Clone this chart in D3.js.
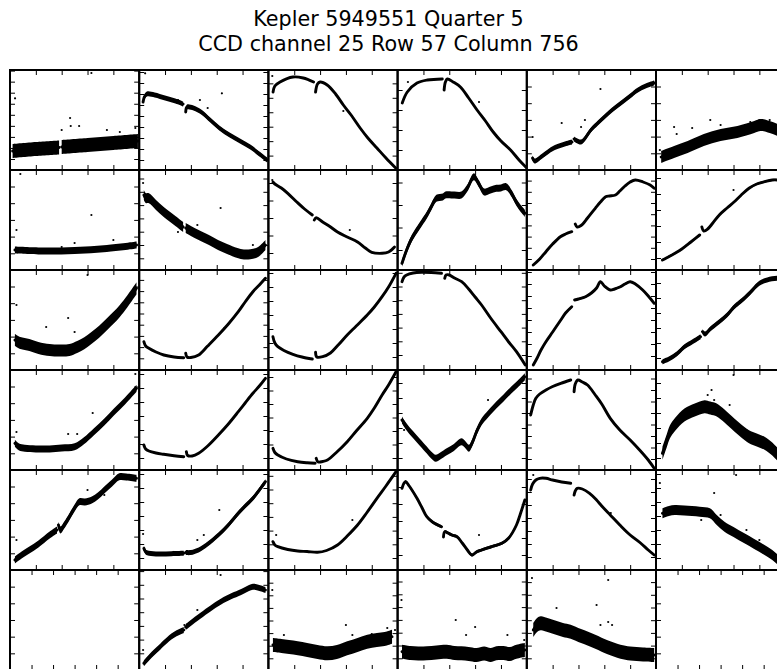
<!DOCTYPE html>
<html><head><meta charset="utf-8">
<script src="https://cdn.jsdelivr.net/npm/d3@7"></script>
<style>body{margin:0;background:#fff}svg{display:block}</style>
</head><body>
<svg id="chart" width="777" height="669"></svg>
<script>
// ---- text ----
const titleLines = ["Kepler 5949551 Quarter 5", "CCD channel 25 Row 57 Column 756"];

// ---- pixel light curves: each panel = list of segments of [time %, flux % of axis range] ----
const row1 = [
  [[[2,19],[20,21],[38,22.5]], [[40,23],[60,25],[80,27],[99,29]]],
  [[[3,68],[4,73],[6,76],[12,75],[20,72],[28,69],[34,66]], [[36,58],[37,63],[42,62],[48,58],[55,50],[62,42],[70,35],[78,29],[86,23],[93,16],[99,10]]],
  [[[3.6,78],[5,84],[9,88],[19,93],[27,92],[35,88]], [[36.5,78],[38,86],[40,88],[45.5,85],[52,76],[58,65],[64,55],[71,42],[77,32],[84,22],[91,12],[98.5,2]]],
  [[[3.6,67],[7.5,78],[15,87],[23,90],[34.6,91]], [[36,80],[37,88],[38.5,91],[43,88],[48.6,83],[55,72],[61.5,60],[68,49],[74,38],[80,29],[87.4,20],[94,10],[100,2]]],
  [[[4.4,12],[6,9],[12,14],[21,22],[35,28]], [[36.6,31],[42,28],[49.6,40],[55,47],[60,53],[66,60],[73,67],[80,74],[86,80],[92,84],[98.6,87]]],
  [[[4,13],[14,18],[24.5,23],[37,30],[50,35],[63,38],[76,43],[81,45],[88,43],[94,40],[100,36]]]
];
const row2 = [
  [[[3.8,20],[25,19],[50,19.5],[75,21.5],[98,25]]],
  [[[3.6,75],[5,72],[7.5,71.7],[13,65],[19,58],[27,50],[34,43]], [[36,42],[40,39],[46,35],[54,30],[61,25],[68,21],[76,17],[81,15.5],[86,15.7],[92,18],[97.7,25]]],
  [[[3.5,88],[5,86],[10,82],[15,76.7],[22,68],[28,61],[34,55]], [[35.5,50],[37,52.3],[42,48],[47,44],[53.5,38],[61,33],[69,28],[75,22],[80,17.7],[88,16.7],[93,18],[97.6,23]]],
  [[[3.4,6.7],[7,20],[11,31.7],[17,44],[22.6,55],[26,63],[30,71.7],[35,73],[37,75],[44,75],[49.4,75],[54,82],[59,93.3],[63,86],[67,78],[72,80],[76.4,81.7],[80,82],[84,83.3],[88,77],[91.7,68.3],[95,62],[98.5,56.7]]],
  [[[5,5],[10,11],[14.8,18.3],[20,26],[26,33.3],[30,36],[34.8,38.3]], [[37.5,46],[39,43],[42,44.5],[47,52],[53,61.7],[57,68],[61,73.3],[64,74],[68.6,75],[72,79],[76,84],[80,88],[84,90],[90,88],[95.5,85],[98.6,81.7]]],
  [[[5,10],[8,12],[14.7,16.7],[20,21],[27,28],[33.8,35]], [[35.5,43],[37,39],[40,41],[44,47],[49,55],[55,62],[60.6,68.3],[66,75],[72,81.7],[78,86],[84,88.3],[90,90],[94.6,90],[100,89]]]
];
const row3 = [
  [[[3.8,30],[8,27],[15,25],[22,22],[30.7,20],[38,19.5],[46,20],[52,23],[57.5,26.7],[63,32],[69,38.3],[76,47],[84.5,58.3],[91,69],[97.9,81.7]]],
  [[[3.6,28.3],[5,24],[7.5,21.7],[13,18],[19,15],[27,13],[34.5,12.3]], [[36,16.7],[37,13],[40,12.5],[46,15],[53,24],[61.3,35],[69,46],[76.7,58.3],[82,68],[88,78.3],[93,85],[97.7,91.7]]],
  [[[3.5,33.3],[5,27],[7.3,23.3],[12,19.5],[19,15.7],[26,13],[34,11]], [[36.5,17.7],[37.5,13],[42,13.3],[48,17],[54,25],[61,35],[68,44],[76.5,55],[82,63],[88,73.3],[93,83],[98.8,96.7]]],
  [[[3.4,88.3],[5,93],[7,95],[12,97],[18.6,97.7],[26,97.5],[34,96.7]], [[36.5,91.7],[37.5,95],[40,95],[44,92],[49.6,88.3],[55,81],[60,73],[65,65],[72,52],[80,38.3],[86,28],[92,18.3],[98.8,5]]],
  [[[5,5],[8,12],[11,20],[14.8,28.3],[20,38],[26.3,50],[30,57],[34.8,63.3]], [[37,70],[40,71],[45.5,73.3],[50,77],[54,82],[57,88.3],[60,84],[64.6,80],[68,81],[72,83],[76,86],[80,88.3],[84,86],[89.7,80],[94,74],[98.6,66.7]]],
  [[[5,8.3],[10,11],[16,16],[22,23.3],[28,28],[34.5,33.3]], [[36,38.3],[38,36],[42,41],[49,48.3],[55,55],[60.6,63.3],[64,67],[68.4,71.7],[74,79],[80,86.7],[86,90],[94.6,91.7],[100,91]]]
];
const row4 = [
  [[[3.8,26.7],[7,23],[11.5,21.7],[20,21],[30.7,21],[40,22],[50,23.3],[57,29],[65,38.3],[73,48],[80.6,58.3],[89,69],[97.9,81.7]]],
  [[[3.6,25],[5,21],[7.5,19],[13,17],[19,15.7],[27,14.3],[34.5,13.3]], [[36.5,18.3],[37.5,14.5],[41,14],[46,16.7],[53,24],[61.3,35],[69,46],[76.7,58.3],[82,67],[88,76.7],[93,84],[97.7,91.7]]],
  [[[3.5,21.7],[5,17.5],[7.3,15],[14,11],[22.7,8.3],[30,7.2],[36.2,6.7]], [[37,11.7],[38.5,8],[42,8.5],[45.7,10],[53,18],[61,28.3],[68,39],[76.5,51.7],[82,62],[88,75],[93,85],[98.8,98.3]]],
  [[[3.4,50],[7,43],[11,36.7],[17,28],[22.6,20],[26,15],[29.5,11.7],[33,14],[38,18.3],[43,22],[49.4,28.3],[52,26],[55.2,21.7],[58,28],[61,38],[65,48.3],[70,56],[76.4,65],[82,72],[88,80],[93,86],[98.5,93.3]]],
  [[[3,55],[5,65],[7,71.7],[10,76],[14.8,80],[20,83.5],[26.3,86.7],[34,90]], [[36.6,78.3],[37.5,86],[39.6,90],[43,88],[47,85],[53,75],[58,66],[64.6,51.7],[72,40],[80,30],[88,19],[94,10],[98.6,1.7]]],
  [[[5,16.7],[8,28],[10.8,38.3],[15,46],[22,55],[30,60],[37.6,63.3],[42,62],[47,60],[53,54],[60.6,45],[66,39],[72,33.3],[78,30],[84,26.7],[90,21],[94.6,15],[100,10]]]
];
const row5 = [
  [[[3.8,10],[9,15],[15,20],[22,26],[30.7,35],[36.4,40]], [[37.5,45],[39,40],[42,45],[46,53.3],[50,62],[53.7,68.3],[58,68],[63.3,70],[68,74],[73,80],[79,87],[84.5,93.3],[90,93],[97.9,91.7]]],
  [[[3.6,21.7],[5,18],[7.5,16.7],[15,16],[25,16.3],[34.5,16.7]], [[36,17.5],[40,17.5],[46,20],[53,26],[61.3,35],[69,45],[76.7,56.7],[82,64],[88,71.7],[93,80],[97.7,88.3]]],
  [[[3.5,28.3],[5,25],[7.3,23.3],[15,20.5],[22.7,19],[30,18.5],[38,17.7],[45,19.5],[53.5,25],[61,34],[69,45],[76,57],[84,71.7],[91,84],[98.8,98.3]]],
  [[[3.4,81.7],[5,87],[6.3,88.3],[9,84],[15,71.7],[19,62],[22.6,53.3],[27,48],[34,43.3]], [[35.5,33],[36.5,38.3],[39,37],[42,35],[46,33.3],[50,27],[54,20],[57.5,15],[61,18],[65,20],[72,23],[80.7,26.7],[86,32],[92,45],[95,56],[98.5,70]]],
  [[[3,80],[4.5,86],[7,90],[10,91.7],[14.8,91.7],[20,90],[27,88],[34,86.7]], [[36.6,75],[37.5,79],[39,81.7],[43,81],[48.6,76.7],[54,70],[58,64],[64.6,55],[72,45],[80,35],[88,27],[94,20],[98.6,15]]],
  [[[5,56.7],[10,59],[14.7,60],[22,59.5],[33.8,58.3],[41.7,56.7],[47,50],[53,43.3],[60,38],[68.4,31.7],[76,26],[84,20],[90,15],[94.6,10],[100,6]]]
];
const row6 = [
  null,
  [[[3.6,6.7],[8,13],[15,21.7],[20,28],[26.7,35],[34.5,40]], [[36,43],[38,45],[45,52],[53.5,60],[59,65],[65.3,70],[70,73],[76.7,76.7],[82,80],[88,83.3],[93,82],[97.7,80]]],
  [[[3.5,25],[10,24],[16,23],[22.7,21.7],[30,20],[38,18],[45.7,16.7],[53,18],[61,21.7],[69,25],[76.5,28.3],[84,30],[90,31],[95.7,33.3]]],
  [[[3.4,18.3],[10,17],[16,16.5],[22.6,16.7],[30,17.5],[38,18.3],[44,17],[49.4,16.7],[55,16],[61,15],[67,16.5],[72,15],[76.4,16.7],[82,17],[87,16],[92,18.3],[98.5,20]]],
  [[[5,40],[8,45],[10.8,46.7],[16,45],[22,42.5],[28,40],[34,38.3],[42,34],[53,28.3],[62,23],[72.5,18.3],[80,16.5],[90,15.5],[98.6,15]]],
  null
];
const rows = [row1, row2, row3, row4, row5, row6];

// scatter half-width of each panel (flux %)
const scatter = [
  [7, 2.5, 0, 0, 2.5, 6],
  [3.5, 5, 0, 3.5, 0, 1],
  [6, 0, 0, 0, 1, 2.5],
  [3.5, 0, 0, 3.5, 0, 6.5],
  [3.5, 2.5, 0.5, 1.5, 0, 5],
  [0, 3, 7, 7, 7, 0]
];

// isolated outlier cadences [time %, flux %]
const outliers = [
  [[[3.9,71.7],[63,97],[46.5,52],[47,44],[53.5,44],[40,40],[75,40],[85,38],[97,42]], [[4.6,96.7],[64,76.7],[47,70],[53,62],[30,70]], [[3,94],[58,59]], [[8,88],[63,68]], [[4.5,33],[27,47],[57,81],[45,50],[42,43]], [[3,20],[14,43],[16,36],[28,42],[42,50],[50,45],[80,50],[88,50],[73,48]]],
  [[[8,96],[63,55],[40,23],[50,27],[80,30],[5,40]], [[3,87],[63,62],[30,38],[45,45],[88,25]], [[3,90],[63,40]], [], [[60,72]], [[60,80]]],
  [[[60,95],[5,65],[45,52],[50,38],[28,43]], [[66,42]], [], [], [], []],
  [[[5,38],[64,57],[45,36],[52,36],[97,96]], [], [], [[5,40],[70,70]], [], [[60,95],[40,75],[45,70],[57,65],[43,80],[80,30],[70,40]]],
  [[[5,30],[60,80],[73,75]], [[3,36],[62,60],[45,30],[50,35]], [[6,35],[65,50]], [[63,35]], [[5,95],[65,57]], [[3,87],[45,77],[62,95],[35,50],[50,55],[70,40],[80,30]]],
  [[], [[3,20],[63,95],[45,60],[35,45]], [[3,80],[60,45],[65,35],[12,35],[80,36],[92,42],[98,40]], [[3,70],[45,50],[60,43],[53,35],[98,30],[85,35]], [[4,92],[63,90],[23,62],[54,65],[63,48],[57,45],[66,45]], []]
];

// tick values
const xTickValues = [20, 40, 60, 80];
const emptyTickValues = [16.67, 33.33, 50, 66.67, 83.33];
const yTickStart = [
  [11, 10, 14.4, 20, 16.7, 16.7],
  [16.7, 11.7, 17, 20, 11, 12],
  [16.7, 11.7, 13, 15, 14, 12],
  [16.7, 12, 12, 12, 11, 12],
  [16.7, 12, 12, 15, 13, 12],
  [16.67, 16.7, 11.7, 11.7, 11.7, 16.67]
];
const yTickStep = [
  [11.05, 11, 14.45, 20, 16.7, 16.7],
  [16.7, 13.3, 17.5, 22.5, 11.2, 16],
  [16.7, 11.2, 14, 13.7, 12, 15],
  [16.7, 14, 13.5, 15, 11.5, 15],
  [16.7, 14, 13.7, 17, 13, 14],
  [16.67, 13.7, 12.6, 12.8, 12.7, 16.67]
];

// ---- drawing ----
const svg = d3.select("#chart");
svg.append("rect").attr("width", 777).attr("height", 669).attr("fill", "#fff");

const gridLeft = 10, gridTop = 70, panelW = 129.2, panelH = 100;

svg.append("g").selectAll("text").data(titleLines).join("text")
  .attr("x", 388.5).attr("y", (d, i) => 26 + i * 24.5)
  .attr("text-anchor", "middle")
  .style("font-family", "'DejaVu Sans', sans-serif")
  .style("font-size", "20.7px").attr("fill", "#000")
  .text(d => d);

const x = d3.scaleLinear().domain([0, 100]).range([0, panelW]);
const y = d3.scaleLinear().domain([0, 100]).range([panelH, 0]);

rows.forEach((row, r) => {
  row.forEach((panel, c) => {
    const g = svg.append("g")
      .attr("transform", `translate(${gridLeft + c * panelW},${gridTop + r * panelH})`);
    const clipId = `clip-${r}-${c}`;
    g.append("clipPath").attr("id", clipId).append("rect")
      .attr("width", panelW).attr("height", panelH);
    const plot = g.append("g").attr("clip-path", `url(#${clipId})`);

    if (panel) {
      const s = scatter[r][c];
      const area = d3.area().x(d => x(d[0])).y0(d => y(d[1] - s)).y1(d => y(d[1] + s))
        .curve(d3.curveCatmullRom);
      const line = d3.line().x(d => x(d[0])).y(d => y(d[1])).curve(d3.curveCatmullRom);
      panel.forEach(seg => {
        if (s > 0) plot.append("path").attr("d", area(seg)).attr("fill", "#000");
        plot.append("path").attr("d", line(seg)).attr("fill", "none")
          .attr("stroke", "#000").attr("stroke-width", 2.9).attr("stroke-linejoin", "round")
          .attr("stroke-linecap", "round");
      });
      plot.selectAll("circle.o").data(outliers[r][c]).join("circle")
        .attr("cx", d => x(d[0])).attr("cy", d => y(d[1])).attr("r", 1.1).attr("fill", "#000");
    }

    const xt = panel ? xTickValues : emptyTickValues;
    const yt = d3.range(yTickStart[r][c], 99.5, yTickStep[r][c]);
    const axes = [
      [d3.axisTop(x).tickValues(xt), 0, 0],
      [d3.axisBottom(x).tickValues(xt), 0, panelH],
      [d3.axisLeft(y).tickValues(yt), 0, 0],
      [d3.axisRight(y).tickValues(yt), panelW, 0]
    ];
    axes.forEach(([ax, tx, ty]) => {
      const a = g.append("g").attr("transform", `translate(${tx},${ty})`)
        .call(ax.tickSize(-5).tickFormat(""));
      a.select(".domain").remove();
      a.selectAll("line").attr("stroke", "#000").attr("stroke-width", 1);
    });

    g.append("rect").attr("width", panelW).attr("height", panelH)
      .attr("fill", "none").attr("stroke", "#000").attr("stroke-width", 2);
  });
});
</script>
</body></html>
